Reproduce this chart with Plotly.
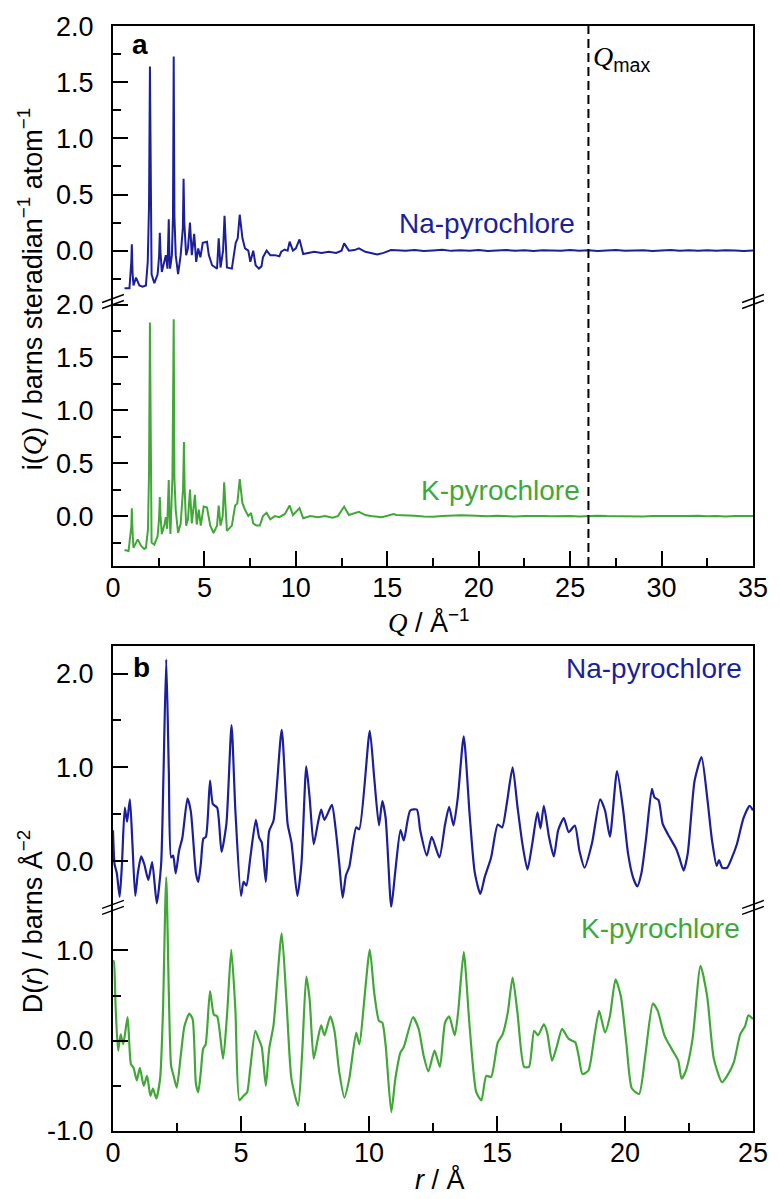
import plotly.graph_objects as go

# ---------------- data: panel a, i(Q) ----------------
q_na = [0.63, 0.9, 1.0, 1.03, 1.07, 1.12, 1.26, 1.35, 1.44, 1.62, 1.8, 1.9, 1.97, 2.02, 2.07, 2.11,
        2.26, 2.44, 2.52, 2.56, 2.6, 2.67, 2.8, 2.89, 2.98, 3.02, 3.05, 3.08, 3.12, 3.22, 3.28, 3.32,
        3.36, 3.43, 3.56, 3.70, 3.82, 3.86, 3.9, 4.0, 4.1, 4.21, 4.31, 4.44, 4.55, 4.66, 4.78, 4.91,
        5.14, 5.24, 5.42, 5.69, 5.78, 5.88, 6.02, 6.10, 6.23, 6.5, 6.71, 6.82, 6.93, 7.08, 7.22, 7.4,
        7.51, 7.67, 7.8, 7.98, 8.12, 8.2, 8.4, 8.6, 8.85, 9.1, 9.2, 9.39, 9.55, 9.66, 9.84, 10.0,
        10.2, 10.4, 10.7, 11.0, 11.4, 11.8, 12.2, 12.5, 12.64, 12.9, 13.2, 13.45, 13.8, 14.1, 14.45,
        14.8, 15.2,
        15.5, 16.0, 16.5, 17.0, 17.5, 18.0, 18.5, 19.0, 19.5, 20.0, 20.5, 21.0, 21.5, 22.0, 22.5,
        23.0, 23.5, 24.0, 24.5, 25.0, 25.5, 26.0, 26.5, 27.0, 27.5, 28.0, 28.5, 29.0, 29.5, 30.0,
        30.5, 31.0, 31.5, 32.0, 32.5, 33.0, 33.5, 34.0, 34.5, 35.0]
i_na = [-0.335, -0.335, -0.1, 0.056, -0.2, -0.31, -0.24, -0.28, -0.31, -0.32, -0.31, -0.1, 0.4, 1.64,
        0.3, -0.21, -0.29, -0.21, -0.05, 0.16, -0.02, -0.19, -0.1, -0.04, -0.16, 0.05, 0.28, 0.0,
        -0.16, -0.04, 0.3, 1.73, 0.3, -0.04, -0.21, -0.04, 0.2, 0.64, 0.25, -0.04, 0.02, 0.25, -0.04,
        0.15, -0.1, 0.02, -0.06, 0.07, 0.08, -0.04, -0.13, -0.16, 0.11, -0.15, 0.0, 0.31, -0.15, -0.16,
        0.07, 0.11, 0.32, 0.11, 0.02, 0.0, -0.1, 0.0, -0.13, -0.16, -0.14, -0.06, 0.0, -0.04, -0.04,
        -0.05, -0.01, 0.01, 0.0, 0.08, 0.0, 0.02, 0.1, -0.03, -0.02, -0.01, -0.02, -0.01, -0.02, 0.0,
        0.065, 0.0, 0.005, 0.02, -0.01, -0.02, -0.035, -0.02, 0.005,
        0.004, 0.0, 0.006, -0.003, 0.002, 0.007, -0.002, 0.003, 0.0, 0.005, -0.004, 0.002, 0.006,
        -0.001, 0.003, -0.003, 0.004, 0.001, -0.002, 0.005, 0.0, 0.003, -0.004, 0.002, 0.006, -0.002,
        0.001, 0.004, -0.003, 0.002, 0.005, -0.001, 0.003, 0.0, 0.004, -0.002, 0.003, 0.001, -0.003,
        0.002]

q_k = [0.63, 0.85, 1.0, 1.03, 1.07, 1.12, 1.35, 1.53, 1.71, 1.8, 1.91, 1.97, 2.02, 2.07, 2.11, 2.26,
       2.44, 2.52, 2.56, 2.6, 2.67, 2.8, 2.89, 2.96, 3.02, 3.05, 3.08, 3.14, 3.25, 3.32, 3.36, 3.43,
       3.56, 3.70, 3.83, 3.88, 3.92, 4.0, 4.1, 4.21, 4.31, 4.48, 4.58, 4.69, 4.8, 4.96, 5.14, 5.32,
       5.5, 5.69, 5.78, 5.88, 6.0, 6.08, 6.23, 6.5, 6.68, 6.8, 6.93, 7.08, 7.22, 7.4, 7.55, 7.67,
       7.85, 8.03, 8.2, 8.4, 8.6, 8.85, 9.1, 9.4, 9.66, 9.84, 10.2, 10.4, 10.8, 11.2, 11.6, 12.0,
       12.3, 12.64, 12.9, 13.45, 13.8, 14.1, 14.7, 15.35,
       15.5, 16.0, 16.5, 17.0, 17.5, 18.0, 18.5, 19.0, 19.5, 20.0, 20.5, 21.0, 21.5, 22.0, 22.5,
       23.0, 23.5, 24.0, 24.5, 25.0, 25.5, 26.0, 26.5, 27.0, 27.5, 28.0, 28.5, 29.0, 29.5, 30.0,
       30.5, 31.0, 31.5, 32.0, 32.5, 33.0, 33.5, 34.0, 34.5, 35.0]
i_k = [-0.32, -0.33, -0.1, 0.075, -0.15, -0.30, -0.22, -0.28, -0.31, -0.30, -0.13, 0.4, 1.83, 0.3,
       -0.25, -0.27, -0.19, -0.02, 0.18, 0.0, -0.17, -0.09, -0.01, -0.12, 0.1, 0.34, 0.05, -0.17,
       0.37, 1.86, 0.35, 0.06, -0.16, -0.07, 0.25, 0.70, 0.25, -0.09, -0.03, 0.25, -0.07, 0.2, -0.08,
       0.06, -0.09, 0.09, 0.08, -0.09, -0.16, -0.09, 0.1, -0.09, 0.0, 0.32, -0.14, -0.09, 0.1, 0.12,
       0.35, 0.12, 0.06, 0.0, 0.03, -0.07, -0.09, -0.09, 0.0, 0.03, -0.03, 0.0, -0.01, 0.02, 0.10,
       0.01, 0.075, -0.02, 0.0, -0.01, 0.0, -0.015, 0.0, 0.09, 0.01, 0.04, 0.01, 0.0, -0.01, 0.02,
       0.01, 0.008, 0.003, -0.004, -0.006, 0.0, 0.005, 0.008, 0.006, 0.002, -0.002, 0.003, 0.0,
       -0.003, 0.002, 0.004, 0.0, -0.002, 0.003, 0.001, -0.003, 0.002, 0.004, 0.0, -0.002, 0.003,
       0.001, -0.004, 0.002, 0.0, 0.003, -0.002, 0.001, 0.004, -0.001, 0.002, -0.003, 0.001, 0.003,
       0.0]

# ---------------- data: panel b, D(r) ----------------
r_na = [0.0, 0.06, 0.15, 0.26, 0.35, 0.46, 0.55, 0.66, 0.76, 0.87, 0.97, 1.1, 1.22, 1.38, 1.53, 1.71,
        1.88, 1.97, 2.08, 2.18, 2.27, 2.35, 2.45, 2.58, 2.71, 2.91, 3.04, 3.24, 3.33, 3.43, 3.53, 3.63,
        3.79, 3.9, 4.07, 4.24, 4.43, 4.63, 4.78, 5.0, 5.1, 5.21, 5.36, 5.58, 5.71, 5.81, 5.97, 6.1,
        6.27, 6.59, 6.82, 6.97, 7.2, 7.36, 7.55, 7.68, 7.84, 8.0, 8.13, 8.26, 8.55, 8.69, 8.84, 8.97,
        9.1, 9.23, 9.5, 9.62, 10.03, 10.2, 10.39, 10.52, 10.65, 10.87, 11.03, 11.23, 11.36, 11.61,
        11.87, 12.0, 12.26, 12.45, 12.75, 12.97, 13.13, 13.3, 13.47, 13.7, 13.93, 14.13, 14.35, 14.52,
        14.77, 15.03, 15.2, 15.38, 15.61, 15.8, 15.99, 16.19, 16.38, 16.58, 16.7, 16.83, 17.03, 17.22,
        17.39, 17.61, 17.8, 18.04, 18.22, 18.42, 18.71, 19.03, 19.22, 19.41, 19.69, 19.93, 20.12,
        20.31, 20.48, 20.64, 20.83, 21.05, 21.15, 21.31, 21.47, 21.67, 22.0, 22.12, 22.29, 22.45,
        22.72, 22.99, 23.21, 23.4, 23.58, 23.67, 23.8, 23.99, 24.18, 24.37, 24.63, 24.87, 25.0]
d_na = [0.33, -0.03, -0.13, -0.38, -0.03, 0.57, 0.42, 0.66, 0.18, -0.37, -0.13, 0.05, -0.03, -0.2,
        -0.01, -0.45, -0.03, 0.9, 2.15, 0.96, 0.04, 0.06, -0.13, 0.11, 0.25, 0.67, 0.53, -0.13, -0.22,
        -0.03, 0.24, 0.26, 0.86, 0.61, 0.57, 0.1, 0.4, 1.45, 0.54, -0.37, -0.22, -0.26, 0.03, 0.44,
        0.25, 0.2, -0.22, 0.32, 0.43, 1.40, 0.4, 0.2, -0.37, -0.03, 1.01, 0.68, 0.18, 0.4, 0.55, 0.44,
        0.6, 0.36, -0.03, -0.39, -0.15, -0.06, 0.36, 0.34, 1.39, 0.9, 0.38, 0.64, 0.46, -0.49, -0.1,
        0.33, 0.22, 0.54, 0.55, 0.33, 0.06, 0.26, 0.04, 0.39, 0.58, 0.38, 0.68, 1.33, 0.5, -0.12,
        -0.35, -0.17, 0.04, 0.39, 0.36, 0.61, 1.0, 0.58, 0.19, -0.09, 0.19, 0.52, 0.35, 0.59, 0.26,
        0.05, 0.33, 0.46, 0.31, 0.38, 0.11, -0.07, 0.19, 0.66, 0.54, 0.26, 0.96, 0.54, 0.08, -0.17,
        -0.27, -0.13, 0.26, 0.77, 0.68, 0.65, 0.4, 0.29, 0.13, 0.04, -0.10, 0.08, 0.86, 1.11, 0.68,
        0.22, -0.05, 0.01, -0.07, -0.07, 0.04, 0.18, 0.46, 0.59, 0.54]

r_k = [0.0, 0.03, 0.1, 0.2, 0.3, 0.4, 0.57, 0.7, 0.8, 0.93, 1.05, 1.2, 1.33, 1.46, 1.56, 1.69,
       1.84, 1.95, 2.08, 2.27, 2.37, 2.49, 2.66, 2.79, 2.98, 3.11, 3.24, 3.33, 3.43, 3.52, 3.62,
       3.79, 3.94, 4.07, 4.3, 4.46, 4.62, 4.78, 4.94, 5.1, 5.24, 5.36, 5.56, 5.69, 5.81, 5.97,
       6.1, 6.27, 6.59, 6.78, 6.97, 7.23, 7.39, 7.55, 7.68, 7.84, 8.0, 8.13, 8.26, 8.49, 8.65,
       8.84, 9.04, 9.23, 9.5, 9.62, 10.03, 10.2, 10.39, 10.52, 10.65, 10.87, 11.03, 11.23, 11.36,
       11.72, 11.94, 12.13, 12.32, 12.56, 12.77, 12.97, 13.13, 13.35, 13.48, 13.7, 13.93, 14.19,
       14.39, 14.58, 14.77, 15.03, 15.22, 15.42, 15.61, 15.8, 16.06, 16.25, 16.45, 16.6, 16.83,
       16.96, 17.15, 17.35, 17.54, 17.8, 18.06, 18.19, 18.34, 18.57, 18.81, 18.99, 19.22, 19.41,
       19.63, 19.84, 20.06, 20.27, 20.55, 20.79, 21.09, 21.28, 21.54, 21.86, 22.08, 22.21, 22.38,
       22.64, 22.95, 23.21, 23.47, 23.79, 23.99, 24.25, 24.5, 24.69, 24.82, 25.0]
d_k = [0.88, 0.88, 0.39, -0.11, 0.07, -0.04, 0.26, -0.26, -0.3, -0.44, -0.3, -0.5, -0.39, -0.61,
       -0.53, -0.64, -0.42, 0.31, 1.81, -0.28, -0.39, -0.52, -0.13, 0.16, 0.30, 0.24, -0.48, -0.57,
       -0.35, -0.09, -0.04, 0.55, 0.29, 0.27, -0.2, 0.31, 1.01, 0.35, -0.66, -0.61, -0.57, -0.31,
       0.11, 0.02, -0.07, -0.5, -0.09, 0.17, 1.19, 0.42, -0.42, -0.72, -0.13, 0.71, 0.46, -0.2, 0.02,
       0.17, 0.06, 0.27, 0.11, -0.35, -0.63, -0.42, 0.09, -0.04, 1.01, 0.54, 0.22, 0.2, -0.05, -0.79,
       -0.42, -0.13, -0.07, 0.26, 0.13, -0.16, -0.34, -0.11, -0.29, 0.2, 0.27, 0.06, 0.31, 0.98,
       0.16, -0.57, -0.66, -0.39, -0.4, -0.02, 0.07, 0.31, 0.70, 0.31, -0.29, -0.29, 0.11, 0.06, 0.18,
       0.09, -0.22, -0.05, 0.13, 0.02, -0.02, -0.17, -0.37, -0.33, 0.06, 0.33, 0.09, 0.27, 0.68, 0.49,
       -0.05, -0.53, -0.59, -0.17, 0.41, 0.33, 0.06, -0.11, -0.22, -0.42, -0.33, 0.02, 0.83, 0.49,
       -0.2, -0.46, -0.39, -0.24, 0.07, 0.16, 0.28, 0.24]

q_max = 26.0

# ---------------- styling / geometry ----------------
BLUE = "#1b1f9c"
GREEN = "#41a838"
FONT = "Liberation Sans, Arial, sans-serif"
W, H = 780, 1199
L, R, T, B = 113, 759.5, 24, 1131


def fx(px):
    return (px - L) / (R - L)


def fy(py):
    return (B - py) / (B - T)


fig = go.Figure()
fig.add_trace(go.Scatter(x=q_na, y=i_na, mode="lines", line=dict(color=BLUE, width=2),
                         xaxis="x", yaxis="y", showlegend=False))
fig.add_trace(go.Scatter(x=q_k, y=i_k, mode="lines", line=dict(color=GREEN, width=2),
                         xaxis="x2", yaxis="y2", showlegend=False))
fig.add_trace(go.Scatter(x=r_na, y=d_na, mode="lines",
                         line=dict(color=BLUE, width=2.2, shape="spline", smoothing=0.6),
                         xaxis="x3", yaxis="y3", showlegend=False))
fig.add_trace(go.Scatter(x=r_k, y=d_k, mode="lines",
                         line=dict(color=GREEN, width=2.2, shape="spline", smoothing=0.6),
                         xaxis="x4", yaxis="y4", showlegend=False))

tickfont = dict(family=FONT, size=27, color="black")


def yax(domain, rng, major, labels, minor):
    return dict(domain=domain, range=rng, tickmode="array", tickvals=major, ticktext=labels,
                ticks="inside", ticklen=15, tickwidth=2, tickcolor="black",
                minor=dict(tickmode="array", tickvals=minor, ticks="inside", ticklen=8,
                           tickwidth=2, tickcolor="black"),
                showline=True, linewidth=2, linecolor="black", mirror=True,
                showgrid=False, zeroline=False, tickfont=tickfont, ticklabelstandoff=12,
                fixedrange=True)


def xbottom(rng, major, minor, anchor):
    return dict(domain=[0, 1], range=rng, anchor=anchor, tickmode="array", tickvals=major,
                ticktext=[str(v) for v in major], ticks="inside", ticklen=15, tickwidth=2,
                tickcolor="black",
                minor=dict(tickmode="array", tickvals=minor, ticks="inside", ticklen=8,
                           tickwidth=2, tickcolor="black"),
                showline=True, linewidth=2, linecolor="black", mirror=False,
                showgrid=False, zeroline=False, tickfont=tickfont, ticklabelstandoff=-3)


def xtop(rng, anchor):
    return dict(domain=[0, 1], range=rng, anchor=anchor, side="top", showticklabels=False,
                ticks="", showline=True, linewidth=2, linecolor="black", mirror=False,
                showgrid=False, zeroline=False)


qa_major = [0, 5, 10, 15, 20, 25, 30, 35]
qa_minor = [2.5, 7.5, 12.5, 17.5, 22.5, 27.5, 32.5]
rb_major = [0, 5, 10, 15, 20, 25]
rb_minor = [2.5, 7.5, 12.5, 17.5, 22.5]

fig.update_layout(
    width=W, height=H,
    margin=dict(l=L, r=W - R, t=T, b=H - B),
    paper_bgcolor="white", plot_bgcolor="rgba(0,0,0,0)",
    xaxis=xtop([0, 35], "y"),
    yaxis=yax([fy(299), fy(T)], [-0.444, 2.0005], [0, 0.5, 1.0, 1.5, 2.0],
              ["0.0", "0.5", "1.0", "1.5", "2.0"], [-0.25, 0.25, 0.75, 1.25, 1.75]),
    xaxis2=xbottom([0, 35], qa_major, qa_minor, "y2"),
    yaxis2=yax([fy(565), fy(299)], [-0.472, 2.038], [0, 0.5, 1.0, 1.5, 2.0],
               ["0.0", "0.5", "1.0", "1.5", "2.0"], [-0.25, 0.25, 0.75, 1.25, 1.75]),
    xaxis3=xtop([0, 25], "y3"),
    yaxis3=yax([fy(907), fy(645)], [-0.493, 2.295], [0, 1, 2],
               ["0.0", "1.0", "2.0"], [0.5, 1.5]),
    xaxis4=xbottom([0, 25], rb_major, rb_minor, "y4"),
    yaxis4=yax([0, fy(875)], [-1.0, 1.83], [-1, 0, 1],
               ["-1.0", "0.0", "1.0"], [-0.5, 0.5]),
)

shapes = []
# Q_max dashed line (data x on the Q axis)
shapes.append(dict(type="line", xref="x2", yref="paper", x0=q_max, x1=q_max, y0=fy(565), y1=fy(T),
                   line=dict(color="black", width=2, dash="9px,5px")))
# axis-break marks
for yb in (300, 907):
    for xb in (L, R):
        for dy in (-3, 3):
            shapes.append(dict(type="line", xref="paper", yref="paper",
                               x0=fx(xb - 11), y0=fy(yb + dy + 4),
                               x1=fx(xb + 11), y1=fy(yb + dy - 4),
                               line=dict(color="black", width=1.5)))
fig.update_layout(shapes=shapes)

ann = []


def add_text(text, px, py, size=27, color="black", xanchor="center", yanchor="middle", angle=0):
    ann.append(dict(text=text, x=fx(px), y=fy(py), xref="paper", yref="paper", showarrow=False,
                    xanchor=xanchor, yanchor=yanchor, textangle=angle,
                    font=dict(family=FONT, size=size, color=color)))


Qi = "<span style='font-family:Liberation Serif'><i>Q</i></span>"
add_text("<b>a</b>", 140, 43, size=28)
add_text("<b>b</b>", 142, 667, size=28)
add_text("Na-pyrochlore", 582, 222, size=28, color=BLUE, xanchor="right")
add_text("K-pyrochlore", 587, 489, size=28, color=GREEN, xanchor="right")
add_text("Na-pyrochlore", 750, 668, size=28, color=BLUE, xanchor="right")
add_text("K-pyrochlore", 748, 928, size=28, color=GREEN, xanchor="right")
add_text(Qi + "<sub>max</sub>", 596, 57, size=28, xanchor="left")
add_text("i(" + Qi + ") / barns steradian<sup>−1</sup> atom<sup>−1</sup>", 29, 287, size=27, angle=-90)
add_text("D(<i>r</i>) / barns Å<sup>−2</sup>", 30, 921, size=27, angle=-90)
add_text(Qi + " / Å<sup>−1</sup>", 432, 620, size=27)
add_text("<i>r</i> / Å", 443, 1180, size=27)
fig.update_layout(annotations=ann)

fig.write_html("out.html")
